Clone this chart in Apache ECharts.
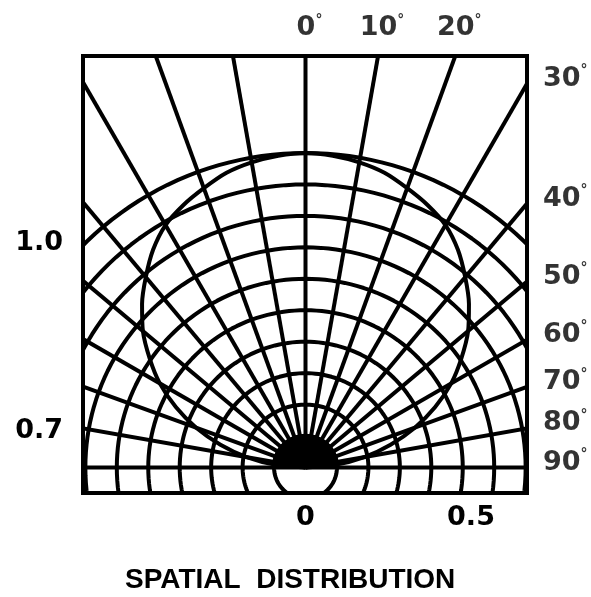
<!DOCTYPE html>
<html><head><meta charset="utf-8">
<script src="https://cdn.jsdelivr.net/npm/echarts@6/dist/echarts.min.js"></script>
<style>html,body{margin:0;padding:0;background:#fff}#c{width:591px;height:597px}</style>
</head><body><div id="c"></div>
<script>
// ---- data ----
const ringRadii = [0.1, 0.2, 0.3, 0.4, 0.5, 0.6, 0.7, 0.8, 0.9, 1.0];
const spokeAngles = [-90, -80, -70, -60, -50, -40, -30, -20, -10, 0, 10, 20, 30, 40, 50, 60, 70, 80, 90];
const patternAngles = [-90, -85, -80, -75, -70, -65, -60, -55, -50, -45, -40, -35, -30, -25, -20, -15, -10, -5, 0,
  5, 10, 15, 20, 25, 30, 35, 40, 45, 50, 55, 60, 65, 70, 75, 80, 85, 90];
const patternValues = [0, 0.095, 0.19, 0.28, 0.37, 0.455, 0.535, 0.605, 0.675, 0.735, 0.79, 0.845, 0.89, 0.92, 0.945, 0.97, 0.985, 0.995, 1.0,
  0.995, 0.985, 0.97, 0.945, 0.92, 0.89, 0.845, 0.79, 0.735, 0.675, 0.605, 0.535, 0.455, 0.37, 0.28, 0.19, 0.095, 0];
const topAngleLabels = [0, 10, 20];
const sideAngleLabels = [30, 40, 50, 60, 70, 80, 90];
const xTickValues = [0, 0.5];
const yTickValues = [0.7, 1.0];
const chartTitle = 'SPATIAL  DISTRIBUTION';

// ---- drawing ----
const X_MIN = -0.7075, X_MAX = 0.7043, Y_MIN = -0.0811, Y_MAX = 1.3084;
const LBL_FONT = 'DejaVu Sans';
function polar(r, deg) { const a = deg * Math.PI / 180; return [r * Math.sin(a), r * Math.cos(a)]; }
const base = { type: 'line', symbol: 'none', showSymbol: false, silent: true, clip: true, animation: false,
  xAxisIndex: 0, yAxisIndex: 0 };
const series = [];
// rings
ringRadii.forEach(r => {
  const pts = [];
  for (let a = 0; a <= 360; a += 2) pts.push(polar(r, a));
  series.push(Object.assign({}, base, { data: pts, lineStyle: { color: '#000', width: 4 }, z: 2 }));
});
// spokes
spokeAngles.forEach(a => {
  series.push(Object.assign({}, base, { data: [[0, 0], polar(2.5, a)], lineStyle: { color: '#000', width: 4 }, z: 2 }));
});
// filled inner half disc
{
  const pts = [];
  for (let a = -90; a <= 90; a += 3) pts.push(polar(ringRadii[0], a));
  series.push(Object.assign({}, base, { data: pts, lineStyle: { color: '#000', width: 4.5 },
    areaStyle: { color: '#000', opacity: 1 }, z: 3 }));
}
// radiation pattern
series.push(Object.assign({}, base, {
  data: patternAngles.map((a, i) => polar(patternValues[i], a)),
  smooth: 0.25, lineStyle: { color: '#000', width: 4 }, z: 4 }));

const richStyle = {
  n: { fontFamily: LBL_FONT, fontWeight: 'bold', fontSize: 27, color: '#000', lineHeight: 30 },
  d: { fontFamily: LBL_FONT, fontWeight: 'bold', fontSize: 14, color: '#000', lineHeight: 30, verticalAlign: 'top' }
};
const fmtAngle = p => '{n|' + p.data.name + '}{d|°}';
// angle labels on top
series.push({ type: 'scatter', silent: true, clip: false, animation: false, symbolSize: 0,
  data: topAngleLabels.map(a => ({ name: String(a), value: [Y_MAX * Math.tan(a * Math.PI / 180), Y_MAX] })),
  label: { show: true, position: 'top', distance: 13, offset: [4, 0], formatter: fmtAngle, rich: richStyle } });
// angle labels on right
series.push({ type: 'scatter', silent: true, clip: false, animation: false, symbolSize: 0,
  data: sideAngleLabels.map(a => ({ name: String(a), value: [X_MAX, X_MAX / Math.tan(a * Math.PI / 180)] })),
  label: { show: true, position: 'right', distance: 16, offset: [0, -5], formatter: fmtAngle, rich: richStyle } });

const axisTxt = { fontFamily: LBL_FONT, fontWeight: 'bold', fontSize: 27, color: '#000' };
const option = {
  backgroundColor: '#fff',
  animation: false,
  title: { text: chartTitle, left: 120, top: 561,
    textStyle: { fontFamily: 'Liberation Sans', fontWeight: 'bold', fontSize: 28, color: '#000' } },
  grid: { left: 83, top: 56, width: 444, height: 437, show: true, borderColor: '#000', borderWidth: 4,
    backgroundColor: 'transparent', containLabel: false },
  xAxis: [
    { type: 'value', min: X_MIN, max: X_MAX, show: false },
    { type: 'value', min: -222.5 / 331, max: 221.5 / 331, position: 'bottom',
      axisLine: { show: false }, axisTick: { show: false }, splitLine: { show: false },
      axisLabel: Object.assign({ customValues: xTickValues, margin: 11,
        formatter: v => (v === 0 ? '0' : v.toFixed(1)) }, axisTxt) }
  ],
  yAxis: [
    { type: 'value', min: Y_MIN, max: Y_MAX, show: false },
    { type: 'value', min: 0.6013, max: 1.2968, position: 'left',
      axisLine: { show: false }, axisTick: { show: false }, splitLine: { show: false },
      axisLabel: Object.assign({ customValues: yTickValues, margin: 20,
        formatter: v => v.toFixed(1) }, axisTxt) }
  ],
  series: series
};
const chart = echarts.init(document.getElementById('c'), null, { renderer: 'canvas' });
chart.setOption(option);
</script>
</body></html>
